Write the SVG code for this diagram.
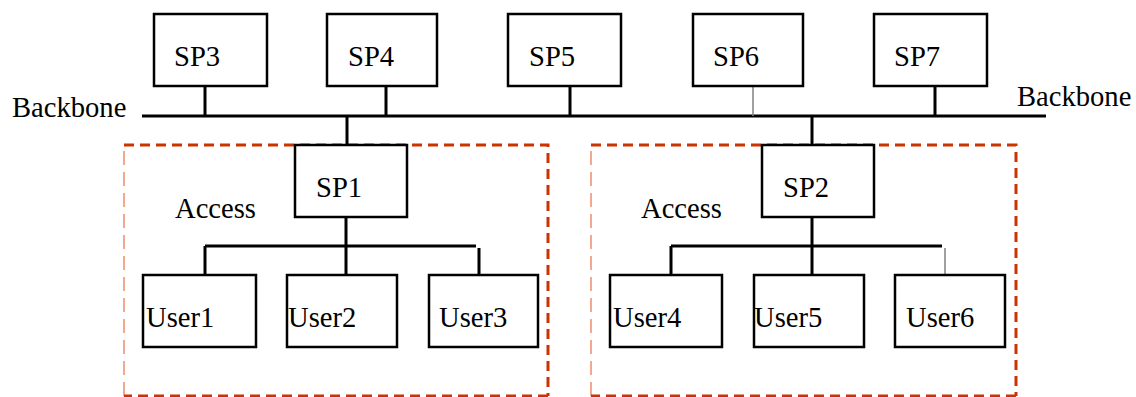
<svg xmlns="http://www.w3.org/2000/svg" width="1136" height="397" viewBox="0 0 1136 397">
<style>
.box{fill:#fff;stroke:#000;stroke-width:2.5}
.t{font-family:"Liberation Serif","Times New Roman",serif;font-size:28.6px;fill:#000}
.ln{stroke:#000;stroke-width:3;fill:none}
.gl{stroke:#808080;stroke-width:1.5;fill:none}
.zr{stroke:#cc3300;stroke-width:3;stroke-dasharray:10 6;fill:none}
.zl{stroke:#e8704a;stroke-width:1.2;stroke-dasharray:14 7;fill:none}
</style>
<rect width="1136" height="397" fill="#fff"/>
<g id="access1">
<path class="zl" d="M124 396 V145"/>
<path class="zr" d="M124 145 H548 V396"/>
<path class="zr" d="M548 396 H124"/>
<text class="t" x="175" y="218">Access</text>
</g>
<g id="access2">
<path class="zl" d="M591 396 V145"/>
<path class="zr" d="M591 145 H1016 V396"/>
<path class="zr" d="M1016 396 H591"/>
<text class="t" x="641" y="218">Access</text>
</g>
<g id="connectors">
<path class="ln" d="M142 116 H1046"/>
<path class="ln" d="M205 86 V116 M386 86 V116 M570 86 V116 M935 86 V116"/>
<path class="gl" d="M753 86 V116"/>
<path class="ln" d="M347 116 V145 M812 116 V145"/>
<path class="ln" d="M346 217 V275 M205 246 H476 M205 246 V275 M479 248 V275"/>
<path class="ln" d="M812 217 V275 M671 246 H942 M671 246 V275"/>
<path class="gl" d="M945 248 V275"/>
</g>
<g id="labels">
<text class="t" x="12" y="117">Backbone</text>
<text class="t" x="1017" y="106">Backbone</text>
</g>
<g id="SP3"><rect class="box" x="154" y="14" width="113" height="72"/><text class="t" x="174" y="66">SP3</text></g>
<g id="SP4"><rect class="box" x="327" y="14" width="110" height="72"/><text class="t" x="348" y="66">SP4</text></g>
<g id="SP5"><rect class="box" x="508" y="14" width="113" height="72"/><text class="t" x="529" y="66">SP5</text></g>
<g id="SP6"><rect class="box" x="693" y="14" width="110" height="72"/><text class="t" x="713" y="66">SP6</text></g>
<g id="SP7"><rect class="box" x="874" y="14" width="113" height="72"/><text class="t" x="894" y="66">SP7</text></g>
<g id="SP1"><rect class="box" x="295" y="145" width="112" height="72"/><text class="t" x="316" y="197">SP1</text></g>
<g id="SP2"><rect class="box" x="762" y="145" width="112" height="72"/><text class="t" x="783" y="197">SP2</text></g>
<g id="User1"><rect class="box" x="143" y="275" width="113" height="72"/><text class="t" x="146" y="327">User1</text></g>
<g id="User2"><rect class="box" x="287" y="275" width="110" height="72"/><text class="t" x="288" y="327">User2</text></g>
<g id="User3"><rect class="box" x="429" y="275" width="109" height="72"/><text class="t" x="439" y="327">User3</text></g>
<g id="User4"><rect class="box" x="610" y="275" width="112" height="72"/><text class="t" x="613" y="327">User4</text></g>
<g id="User5"><rect class="box" x="754" y="275" width="110" height="72"/><text class="t" x="754" y="327">User5</text></g>
<g id="User6"><rect class="box" x="895" y="275" width="110" height="72"/><text class="t" x="906" y="327">User6</text></g>
</svg>
